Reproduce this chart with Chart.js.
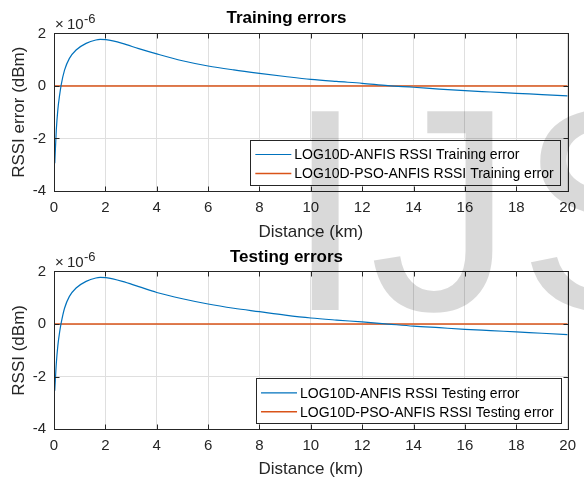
<!DOCTYPE html>
<html>
<head>
<meta charset="utf-8">
<script src="https://cdn.jsdelivr.net/npm/chart.js@4"></script>
<style>
  body { margin: 0; background: #fff; }
  #wrap { position: relative; width: 584px; height: 480px; }
  #wrap canvas { position: absolute; left: 0; }
  #mark { pointer-events: none; }
</style>
</head>
<body>
<div id="wrap">
  <canvas id="trainChart" width="584" height="244" style="top:0"></canvas>
  <canvas id="testChart" width="584" height="240" style="top:240px"></canvas>
  <canvas id="mark" width="584" height="480" style="top:0"></canvas>
</div>
<script>
// values are in units of 1e-6 dBm (axis shows the x10^-6 multiplier)
const trainDistance = [0.03, 0.09, 0.15, 0.22, 0.28, 0.41, 0.6, 0.86, 1.25, 1.63, 1.8, 2.02, 2.66, 3.3, 4, 5, 6, 7, 8, 9, 10, 11, 12, 13, 14, 15, 16, 17, 18, 19, 20];
const anfisTrainErr = [-2.94, -1.67, -0.9, -0.34, 0.04, 0.6, 1.05, 1.37, 1.62, 1.75, 1.77, 1.76, 1.62, 1.42, 1.22, 0.96, 0.76, 0.61, 0.48, 0.36, 0.25, 0.17, 0.1, 0.01, -0.05, -0.12, -0.18, -0.23, -0.28, -0.33, -0.38];

const testDistance = [0.03, 0.09, 0.15, 0.22, 0.28, 0.41, 0.6, 0.86, 1.25, 1.63, 1.8, 2.02, 2.66, 3.3, 4, 5, 6, 7, 8, 9, 10, 11, 12, 13, 14, 15, 16, 17, 18, 19, 20];
const anfisTestErr = [-2.53, -1.5, -0.82, -0.3, 0.04, 0.6, 1.05, 1.37, 1.62, 1.75, 1.77, 1.76, 1.62, 1.42, 1.2, 0.96, 0.76, 0.6, 0.47, 0.34, 0.23, 0.15, 0.08, 0.0, -0.08, -0.14, -0.2, -0.25, -0.3, -0.35, -0.4];

const psoDistance = [0, 20];
const psoTrainErr = [0, 0];
const psoTestErr = [0, 0];

const xTicks = [0, 2, 4, 6, 8, 10, 12, 14, 16, 18, 20];
const yTicks = [-4, -2, 0, 2];

const BLUE = '#0072BD';
const ORANGE = '#D95319';
const AXIS = '#262626';
const GRID = '#dfdfdf';
const FONT = "'Liberation Sans', Arial, Helvetica, sans-serif";

Chart.defaults.font.family = FONT;

function pairs(xs, ys) {
  return xs.map((x, i) => ({ x: x, y: ys[i] }));
}

// box, inward ticks, legend and the x10^-6 label, drawn like a matlab axes
const matlabAxes = {
  id: 'matlabAxes',
  afterDatasetsDraw(chart) {
    const { ctx, chartArea: a, scales: { x, y } } = chart;
    ctx.save();

    // legend
    const sets = chart.data.datasets;
    ctx.font = '14px ' + FONT;
    let textW = Math.max(...sets.map(d => ctx.measureText(d.label).width));
    let right = a.right - 7, bottom = a.bottom - 6, top = bottom - 45;
    let textX = right - 7 - textW;
    let left = textX - 3 - 36 - 5;
    ctx.fillStyle = '#fff';
    ctx.fillRect(left, top, right - left, bottom - top);
    ctx.strokeStyle = AXIS;
    ctx.lineWidth = 1;
    ctx.strokeRect(Math.round(left) + 0.5, Math.round(top) + 0.5, Math.round(right - left), Math.round(bottom - top));
    sets.forEach((d, i) => {
      let cy = top + 14.5 + i * 19;
      ctx.strokeStyle = d.borderColor;
      ctx.lineWidth = d.borderWidth;
      ctx.beginPath();
      ctx.moveTo(left + 5, cy);
      ctx.lineTo(left + 41, cy);
      ctx.stroke();
      ctx.fillStyle = '#000';
      ctx.textBaseline = 'middle';
      ctx.textAlign = 'left';
      ctx.fillText(d.label, textX, cy + 1);
    });

    // frame
    let L = Math.round(a.left) + 0.5, R = Math.round(a.right) + 0.5;
    let T = Math.round(a.top) + 0.5, B = Math.round(a.bottom) + 0.5;
    ctx.strokeStyle = AXIS;
    ctx.lineWidth = 1;
    ctx.strokeRect(L, T, R - L, B - T);
    ctx.beginPath();
    xTicks.forEach(v => {
      let px = Math.round(x.getPixelForValue(v)) + 0.5;
      ctx.moveTo(px, B); ctx.lineTo(px, B - 5);
      ctx.moveTo(px, T); ctx.lineTo(px, T + 5);
    });
    yTicks.forEach(v => {
      let py = Math.round(y.getPixelForValue(v)) + 0.5;
      ctx.moveTo(L, py); ctx.lineTo(L + 5, py);
      ctx.moveTo(R, py); ctx.lineTo(R - 5, py);
    });
    ctx.stroke();

    // exponent label
    ctx.fillStyle = AXIS;
    ctx.textAlign = 'left';
    ctx.textBaseline = 'alphabetic';
    ctx.font = '15px ' + FONT;
    ctx.fillText('\u00d7', a.left + 1, a.top - 4);
    ctx.fillText('10', a.left + 13, a.top - 4);
    ctx.font = '13px ' + FONT;
    ctx.fillText('-6', a.left + 30, a.top - 10);
    ctx.restore();
  }
};

function makeChart(id, cfg) {
  return new Chart(document.getElementById(id), {
    type: 'line',
    data: {
      datasets: [
        {
          label: cfg.labels[0],
          data: pairs(cfg.xs, cfg.ys),
          borderColor: BLUE,
          borderWidth: 1.2,
          pointRadius: 0,
          cubicInterpolationMode: 'monotone',
          fill: false
        },
        {
          label: cfg.labels[1],
          data: pairs(psoDistance, cfg.pso),
          borderColor: ORANGE,
          borderWidth: 1.6,
          pointRadius: 0,
          fill: false
        }
      ]
    },
    options: {
      responsive: false,
      animation: false,
      layout: { padding: { left: 0, right: 11, top: 0, bottom: 0 } },
      plugins: {
        legend: { display: false },
        tooltip: { enabled: false },
        title: {
          display: true,
          text: cfg.title,
          color: '#000',
          font: { size: 17, weight: 'bold' },
          padding: { top: cfg.titleTop, bottom: cfg.titleBottom }
        }
      },
      scales: {
        x: {
          type: 'linear',
          min: 0,
          max: 20,
          afterFit: (s) => { s.height = cfg.xHeight; },
          afterBuildTicks: (s) => { s.ticks = xTicks.map(v => ({ value: v })); },
          ticks: { color: AXIS, font: { size: 15 }, padding: 8, maxRotation: 0, autoSkip: false },
          grid: { color: GRID, drawTicks: false },
          border: { display: false },
          title: {
            display: true,
            text: 'Distance (km)',
            color: AXIS,
            font: { size: 17 },
            padding: { top: 0, bottom: cfg.xTitlePad }
          }
        },
        y: {
          min: -4,
          max: 2,
          afterFit: (s) => { s.width = 54; },
          afterBuildTicks: (s) => { s.ticks = yTicks.map(v => ({ value: v })); },
          ticks: { color: AXIS, font: { size: 15 }, padding: 8 },
          grid: { color: GRID, drawTicks: false },
          border: { display: false },
          title: {
            display: true,
            text: cfg.yTitle,
            color: AXIS,
            font: { size: 17 },
            padding: { top: 9, bottom: 0 }
          }
        }
      }
    },
    plugins: [matlabAxes]
  });
}

makeChart('trainChart', {
  title: 'Training errors',
  yTitle: 'RSSI error (dBm)',
  labels: ['LOG10D-ANFIS RSSI Training error', 'LOG10D-PSO-ANFIS RSSI Training error'],
  xs: trainDistance, ys: anfisTrainErr, pso: psoTrainErr,
  titleTop: 8, titleBottom: 5, xHeight: 53, xTitlePad: 1
});

makeChart('testChart', {
  title: 'Testing errors',
  yTitle: 'RSSI (dBm)',
  labels: ['LOG10D-ANFIS RSSI Testing error', 'LOG10D-PSO-ANFIS RSSI Testing error'],
  xs: testDistance, ys: anfisTestErr, pso: psoTestErr,
  titleTop: 7, titleBottom: 4, xHeight: 50.7, xTitlePad: 0
});

// journal watermark laid over both plots
const mctx = document.getElementById('mark').getContext('2d');
mctx.font = '289px ' + FONT;
mctx.letterSpacing = '4px';
mctx.fillStyle = 'rgba(0,0,0,0.15)';
mctx.textBaseline = 'alphabetic';
mctx.fillText('IJS', 285, 310);
</script>
</body>
</html>
